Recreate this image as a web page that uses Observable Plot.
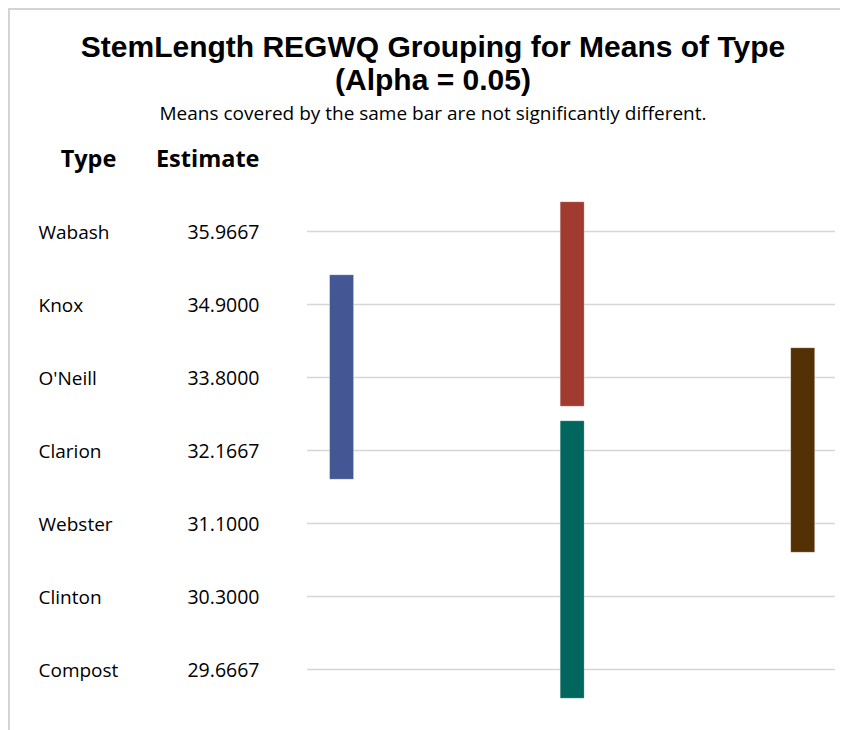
<!DOCTYPE html>
<html>
<head>
<meta charset="utf-8">
<script src="https://cdn.jsdelivr.net/npm/d3@7"></script>
<script src="https://cdn.jsdelivr.net/npm/@observablehq/plot@0.6"></script>
<style>
  html, body { margin: 0; padding: 0; background: #fff; }
  body { width: 846px; height: 730px; position: relative; overflow: hidden; font-family: "Open Sans", sans-serif; color: #000; }
  #frame { position: absolute; left: 8px; top: 8px; width: 830px; height: 730px; border-left: 2px solid #d4d4d4; border-top: 2px solid #d4d4d4; }
  .title { position: absolute; left: 10px; width: 846px; height: 34px; text-align: center; font-family: "Liberation Sans", Arial, sans-serif; font-weight: 700; font-size: 29px; line-height: 34px; white-space: nowrap; }
  #title1 { top: 30px; }
  #title2 { top: 63px; }
  #subtitle { position: absolute; left: 10px; top: 102px; width: 846px; text-align: center; font-size: 19px; line-height: 22px; white-space: nowrap; }
  #chart { position: absolute; left: 0; top: 124px; }
</style>
</head>
<body>
<div id="frame"></div>
<div class="title" id="title1"><span>StemLength REGWQ Grouping for Means of Type</span></div>
<div class="title" id="title2"><span>(Alpha = 0.05)</span></div>
<div id="subtitle">Means covered by the same bar are not significantly different.</div>
<div id="chart"></div>
<script>
const types = ["Wabash", "Knox", "O'Neill", "Clarion", "Webster", "Clinton", "Compost"];
const estimates = [35.9667, 34.9000, 33.8000, 32.1667, 31.1000, 30.3000, 29.6667];
const headers = ["Type", "Estimate"];

const groupColumn = [1, 2, 2, 3];
const groupStart = ["Knox", "Wabash", "Clarion", "O'Neill"];
const groupEnd = ["Clarion", "O'Neill", "Compost", "Webster"];
const groupColors = ["#445694", "#A23B2F", "#01665E", "#543005"];

// fit the title's first line to the reference width (about 720px)
(function fitTitle() {
  const span = document.querySelector("#title1 span");
  const w = span.getBoundingClientRect().width;
  const size = Math.min(30, 29 * 720 / w);
  document.querySelectorAll(".title").forEach(el => el.style.fontSize = size + "px");
})();

const rows = types.map((t, i) => ({type: t, i, est: estimates[i].toFixed(4)}));
const barHalfWidth = 0.052;
const bandHalf = 0.4;
const groups = groupColumn.map((c, k) => ({
  x1: c - barHalfWidth,
  x2: c + barHalfWidth,
  y1: types.indexOf(groupStart[k]) - bandHalf,
  y2: types.indexOf(groupEnd[k]) + bandHalf,
  color: groupColors[k]
}));

const font = "'Open Sans', sans-serif";
const chart = Plot.plot({
  width: 846,
  height: 600,
  marginLeft: 307,
  marginRight: 11,
  marginTop: 107,
  marginBottom: 55,
  style: {fontFamily: font, background: "transparent", overflow: "visible"},
  x: {domain: [0.85, 3.14], axis: null},
  y: {domain: [0, 6], reverse: true, axis: null},
  marks: [
    Plot.ruleY(rows, {y: "i", stroke: "#d6d6d6", strokeWidth: 1.6}),
    Plot.rect(groups, {x1: "x1", x2: "x2", y1: "y1", y2: "y2", fill: "color", stroke: "white", strokeOpacity: 0.35, strokeWidth: 0.8}),
    Plot.text(rows, {y: "i", text: "type", frameAnchor: "left", dx: -269, dy: 1, textAnchor: "start", fontSize: 19, fill: "#000"}),
    Plot.text(rows, {y: "i", text: "est", frameAnchor: "left", dx: -48, dy: 1, textAnchor: "end", fontSize: 19.5, fill: "#000"}),
    Plot.text([headers[0]], {text: d => d, frameAnchor: "top-left", lineAnchor: "middle", dx: -219, dy: -72, textAnchor: "middle", fontSize: 23.5, fontWeight: "bold", fill: "#000"}),
    Plot.text([headers[1]], {text: d => d, frameAnchor: "top-left", lineAnchor: "middle", dx: -48, dy: -72, textAnchor: "end", fontSize: 23.5, fontWeight: "bold", fill: "#000"})
  ]
});
document.getElementById("chart").appendChild(chart);
</script>
</body>
</html>
